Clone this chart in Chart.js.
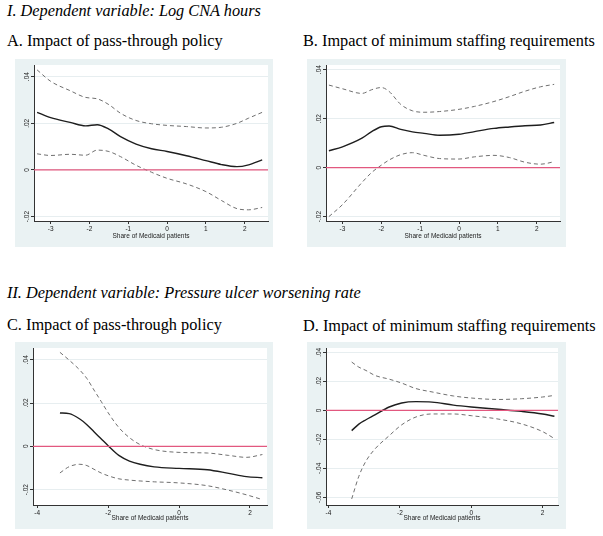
<!DOCTYPE html>
<html>
<head>
<meta charset="utf-8">
<script src="https://cdn.jsdelivr.net/npm/chart.js@4.4.0/dist/chart.umd.min.js"></script>
<style>
	body { margin: 0; width: 603px; height: 536px; background: #fff; position: relative; overflow: hidden; }
	.t { position: absolute; font-family: "Liberation Serif", "Times New Roman", serif; font-size: 16.3px; line-height: 1; white-space: nowrap; color: #000; }
	.sec { font-style: italic; }
	canvas { position: absolute; }
</style>
</head>
<body>
<div class="t sec" style="left:7px;top:3px">I. Dependent variable: Log CNA hours</div>
<div class="t" style="left:7px;top:33px">A. Impact of pass-through policy</div>
<div class="t" style="left:303px;top:33px">B. Impact of minimum staffing requirements</div>
<div class="t sec" style="left:7px;top:285px">II. Dependent variable: Pressure ulcer worsening rate</div>
<div class="t" style="left:7px;top:317px">C. Impact of pass-through policy</div>
<div class="t" style="left:303px;top:318px">D. Impact of minimum staffing requirements</div>

<canvas id="chart-a" width="258" height="188" style="left:15px;top:59px"></canvas>
<canvas id="chart-b" width="259" height="188" style="left:307px;top:59px"></canvas>
<canvas id="chart-c" width="258" height="187" style="left:15px;top:342px"></canvas>
<canvas id="chart-d" width="259" height="187" style="left:307px;top:342px"></canvas>

<script>
// Panel A - log CNA hours, pass-through policy
const xA = [-3.35, -3.0, -2.5, -2.1, -1.8, -1.5, -1.2, -0.8, -0.4, 0, 0.5, 1.0, 1.4, 1.8, 2.1, 2.45];
const fitA = [.0247, .0224, .0204, .0189, .0194, .0175, .0143, .0111, .0091, .0079, .0061, .0040, .0023, .0014, .0022, .0043];
const upA = [.0429, .0380, .0340, .0311, .0305, .0280, .0243, .0212, .0198, .0191, .0186, .0180, .0183, .0200, .0222, .0247];
const loA = [.0069, .0062, .0067, .0063, .0085, .0079, .0057, .0020, -.0010, -.0036, -.0060, -.0093, -.0131, -.0166, -.0171, -.0161];

// Panel B - log CNA hours, minimum staffing
const xB = [-3.35, -3.0, -2.5, -2.25, -2.0, -1.8, -1.5, -1.2, -0.9, -0.5, 0, 0.4, 0.9, 1.3, 1.7, 2.1, 2.45];
const fitB = [.0069, .0085, .0120, .0147, .0167, .0170, .0156, .0146, .0140, .0132, .0136, .0147, .0160, .0166, .0171, .0174, .0184];
const upB = [.0337, .0322, .0303, .0318, .0327, .0311, .0258, .0232, .0226, .0229, .0238, .0250, .0270, .0290, .0312, .0330, .0340];
const loB = [-.0200, -.0151, -.0061, -.0020, .0010, .0031, .0053, .0061, .0050, .0037, .0035, .0044, .0050, .0041, .0022, .0014, .0024];

// Panel C - pressure ulcer worsening, pass-through policy
const xC = [-3.36, -3.1, -2.8, -2.6, -2.4, -2.2, -2.0, -1.7, -1.4, -1.1, -0.7, 0, 0.8, 1.4, 1.9, 2.35];
const fitC = [.0154, .0151, .0126, .0100, .0067, .0035, .0003, -.0042, -.0068, -.0083, -.0095, -.0102, -.0108, -.0125, -.0140, -.0145];
const upC = [.0434, .0398, .0352, .0313, .0260, .0208, .0155, .0087, .0040, .0008, -.0015, -.0028, -.0031, -.0042, -.0051, -.0038];
const loC = [-.0123, -.0094, -.0083, -.0089, -.0106, -.0123, -.0136, -.0150, -.0156, -.0160, -.0164, -.0169, -.0182, -.0203, -.0224, -.0246];

// Panel D - pressure ulcer worsening, minimum staffing
const xD = [-3.35, -3.15, -2.95, -2.7, -2.3, -1.95, -1.55, -1.1, -0.5, 0, 0.75, 1.4, 2.0, 2.33];
const fitD = [-.0140, -.0095, -.0065, -.0032, .0023, .0051, .0060, .0057, .0036, .0023, .0007, -.0007, -.0025, -.0041];
const upD = [.0333, .0298, .0275, .0241, .0215, .0188, .0150, .0127, .0099, .0085, .0075, .0080, .0092, .0103];
const loD = [-.0611, -.0455, -.0350, -.0267, -.0175, -.0100, -.0046, -.0025, -.0025, -.0037, -.0060, -.0093, -.0147, -.0195];

// tick values
const xTicksTop = [-3, -2, -1, 0, 1, 2];
const xTicksBottom = [-4, -2, 0, 2];
const yTicks = [-0.02, 0, 0.02, 0.04];
const yTicksD = [-0.06, -0.04, -0.02, 0, 0.02, 0.04];

const xTitle = 'Share of Medicaid patients';
const tickFont = { family: '"Liberation Sans", Arial, sans-serif', size: 6.5 };

// stata style: bluish graph region, white plot region
const plotBg = {
	id: 'plotBg',
	beforeDraw(chart) {
		const { ctx, chartArea: a } = chart;
		ctx.save();
		ctx.fillStyle = '#eaf2f3';
		ctx.fillRect(0, 0, chart.width, chart.height);
		ctx.fillStyle = '#ffffff';
		ctx.fillRect(a.left, a.top, a.right - a.left, a.bottom - a.top);
		ctx.restore();
	}
};

const fmtY = v => {
	if (Math.abs(v) < 1e-9) return '0';
	return (v < 0 ? '-' : '') + Math.abs(v).toFixed(2).replace(/^0/, '');
};

const pts = (xs, ys) => xs.map((x, i) => ({ x: x, y: ys[i] }));

function makePanel(id, xs, fit, up, lo, xRange, yRange, xTicks, yVals, box) {
	const dashed = {
		borderColor: '#707070',
		borderWidth: 1,
		borderDash: [4, 3]
	};
	return new Chart(document.getElementById(id), {
		type: 'scatter',
		data: {
			datasets: [
				{ data: [{ x: xRange[0], y: 0 }, { x: xRange[1], y: 0 }], borderColor: '#e2587f', borderWidth: 1.3 },
				Object.assign({ data: pts(xs, up) }, dashed),
				Object.assign({ data: pts(xs, lo) }, dashed),
				{ data: pts(xs, fit), borderColor: '#1e1e1e', borderWidth: 1.4 }
			]
		},
		options: {
			responsive: false,
			animation: false,
			showLine: true,
			elements: {
				point: { radius: 0 },
				line: { cubicInterpolationMode: 'monotone' }
			},
			layout: { padding: { left: 0, top: 6, right: box.right, bottom: 0 } },
			scales: {
				x: {
					type: 'linear',
					min: xRange[0],
					max: xRange[1],
					afterBuildTicks: s => { s.ticks = xTicks.map(v => ({ value: v })); },
					afterFit: s => { s.height = box.xh; },
					ticks: { font: tickFont, color: '#222', padding: 1, maxRotation: 0, autoSkip: false },
					grid: { drawOnChartArea: false, tickLength: 3, tickColor: '#333' },
					border: { color: '#333', width: 1 },
					title: { display: true, text: xTitle, font: tickFont, color: '#222', padding: { top: 0, bottom: 7 } }
				},
				y: {
					min: yRange[0],
					max: yRange[1],
					afterBuildTicks: s => { s.ticks = yVals.map(v => ({ value: v })); },
					afterFit: s => { s.width = box.yw; },
					ticks: {
						font: tickFont, color: '#222', padding: -2,
						minRotation: 90, maxRotation: 90, crossAlign: 'center',
						callback: v => fmtY(v)
					},
					grid: { color: '#e7eef0', lineWidth: 1, tickLength: 3, tickColor: '#333' },
					border: { color: '#333', width: 1 }
				}
			},
			plugins: {
				legend: { display: false },
				tooltip: { enabled: false }
			}
		},
		plugins: [plotBg]
	});
}

const chartA = makePanel('chart-a', xA, fitA, upA, loA, [-3.43, 2.6], [-0.0219, 0.0450], xTicksTop, yTicks, { right: 5, yw: 19, xh: 26 });
const chartB = makePanel('chart-b', xB, fitB, upB, loB, [-3.425, 2.6], [-0.0218, 0.0419], xTicksTop, yTicks, { right: 6, yw: 19, xh: 26 });
const chartC = makePanel('chart-c', xC, fitC, upC, loC, [-4.12, 2.48], [-0.0271, 0.0454], xTicksBottom, yTicks, { right: 6, yw: 18, xh: 24 });
const chartD = makePanel('chart-d', xD, fitD, upD, loD, [-4.07, 2.43], [-0.0653, 0.0430], xTicksBottom, yTicksD, { right: 8, yw: 19, xh: 24 });
</script>
</body>
</html>
